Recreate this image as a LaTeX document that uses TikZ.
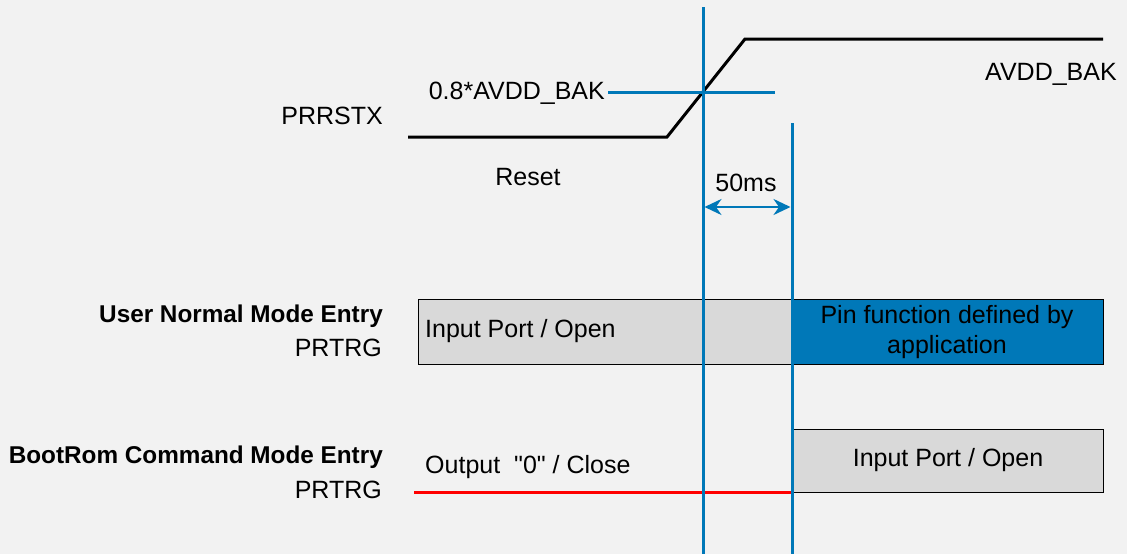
\documentclass[tikz,border=0pt]{standalone}
\usepackage{fontspec}
\setmainfont{Liberation Sans}
\newfontfamily\qfont{Liberation Sans}
\usetikzlibrary{arrows.meta}
\definecolor{bg}{HTML}{F2F2F2}
\definecolor{tblue}{HTML}{0078B8}
\definecolor{boxgray}{HTML}{D9D9D9}
\definecolor{tred}{HTML}{FF0000}
\tikzset{
  lbl/.style={inner sep=0pt, font=\fontsize{25}{30}\selectfont},
  blbl/.style={inner sep=0pt, font=\fontsize{24.3}{30}\selectfont\bfseries},
  sig/.style={line width=3pt, black},
  bline/.style={line width=3pt, tblue},
  rline/.style={line width=3pt, tred},
  gbox/.style={draw=black, line width=1pt, fill=boxgray},
  bbox/.style={draw=black, line width=1pt, fill=tblue},
}
\begin{document}
\begin{tikzpicture}[x=1pt,y=-1pt]
\fill[bg] (0,0) rectangle (1127,554);
\useasboundingbox (0,0) rectangle (1127,554);
% boxes
\path[gbox] (418,299) rectangle (792,364);
\path[bbox] (792,299) rectangle (1103,364);
\path[gbox] (793,429) rectangle (1103,492);
\node[lbl, anchor=west] (ipo1) at (425,331) {Input Port / Open};
\node[lbl, align=center] (pinf) at (947,332) {Pin function defined by\\application};
\node[lbl] (ipo2) at (948,460) {Input Port / Open};
% signal
\coordinate (s0) at (408,137);
\coordinate (s1) at (667,137);
\coordinate (s2) at (745,39);
\coordinate (s3) at (1103,39);
\draw[sig, line join=miter] (s0) -- (s1) -- (s2) -- (s3);
% labels
\node[lbl, anchor=east] (prrstx) at (383,116) {PRRSTX};
\node[lbl, anchor=east] (thr) at (605,93) {0.8*AVDD\_BAK};
\node[lbl] (avdd) at (1051,74) {AVDD\_BAK};
\node[lbl] (reset) at (528,177) {Reset};
\node[lbl] (ms) at (746,183) {50ms};
\node[blbl, anchor=east] (unm) at (383,316) {User Normal Mode Entry};
\node[lbl, anchor=east] (prtrg1) at (382,348) {PRTRG};
\node[blbl, anchor=east] (brc) at (383,457) {BootRom Command Mode Entry};
\node[lbl, anchor=east] (prtrg2) at (382,490) {PRTRG};
\node[lbl, anchor=west] (out0) at (425,467) {\qfont Output~~"0" / Close};
% threshold line
\coordinate (t1) at (775,92);
\draw[bline] (thr.east) ++(3,-1) -- (t1);
% red line
\coordinate (r0) at (414,492);
\coordinate (r1) at (792,492);
\draw[rline] (r0) -- (r1);
% vertical lines
\coordinate (v1a) at (703,7);
\coordinate (v1b) at (703,554);
\coordinate (v2a) at (792,123);
\coordinate (v2b) at (792,554);
\draw[bline] (v1a) -- (v1b);
\draw[bline] (v2a) -- (v2b);
% 50ms arrow
\coordinate (a1) at (704.5,207);
\coordinate (a2) at (790.5,207);
\draw[line width=2.5pt, tblue, {Stealth[length=17pt,width=16pt]}-{Stealth[length=17pt,width=16pt]}] (a1) -- (a2);
\end{tikzpicture}
\end{document}
